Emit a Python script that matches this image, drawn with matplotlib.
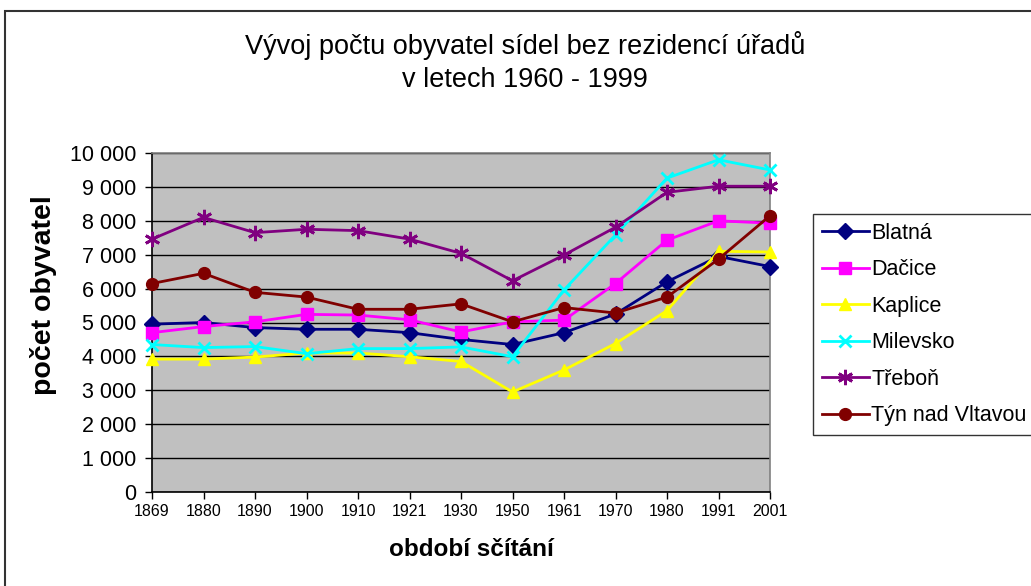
import matplotlib
matplotlib.use("Agg")
import matplotlib.pyplot as plt
from matplotlib.patches import Rectangle
from matplotlib.ticker import FuncFormatter

plt.rcParams['font.family'] = ['Liberation Sans', 'DejaVu Sans']

years = ['1869', '1880', '1890', '1900', '1910', '1921', '1930',
         '1950', '1961', '1970', '1980', '1991', '2001']

blatna = [4950, 5000, 4850, 4800, 4800, 4700, 4500, 4350, 4700, 5250, 6200, 6950, 6650]
dacice = [4700, 4880, 5020, 5240, 5220, 5080, 4720, 5020, 5070, 6150, 7430, 8000, 7930]
kaplice = [3920, 3920, 3980, 4100, 4100, 3990, 3850, 2950, 3600, 4380, 5350, 7100, 7080]
milevsko = [4350, 4260, 4290, 4080, 4230, 4230, 4280, 3990, 5960, 7580, 9260, 9800, 9500]
trebon = [7460, 8100, 7650, 7750, 7710, 7460, 7040, 6230, 6990, 7810, 8840, 9020, 9020]
tyn = [6150, 6450, 5890, 5750, 5390, 5390, 5550, 5020, 5440, 5280, 5750, 6870, 8150]

series = [
    ('Blatná', blatna, '#000080', 'D', 8),
    ('Dačice', dacice, '#FF00FF', 's', 8),
    ('Kaplice', kaplice, '#FFFF00', '^', 8.5),
    ('Milevsko', milevsko, '#00FFFF', 'x', 9),
    ('Třeboň', trebon, '#800080', (6, 2, 0), 11),
    ('Týn nad Vltavou', tyn, '#800000', 'o', 8.5),
]

fig = plt.figure(figsize=(10.31, 5.86), dpi=100)
ax = fig.add_axes([152 / 1031, 94 / 586, 618 / 1031, 339 / 586])
ax.set_facecolor('#C0C0C0')

x = list(range(len(years)))
for name, vals, col, mk, ms in series:
    ax.plot(x, vals, color=col, lw=2, marker=mk, markersize=ms,
            markeredgewidth=2 if mk in ('x', (6, 2, 0)) else 1,
            markerfacecolor=col, markeredgecolor=col, label=name,
            clip_on=False, zorder=3)

ax.set_xlim(0, len(years) - 1)
ax.set_ylim(0, 10000)
ax.set_xticks(x)
ax.set_xticklabels(years)
ax.set_yticks(range(0, 10001, 1000))
ax.yaxis.set_major_formatter(FuncFormatter(lambda v, p: f"{int(v):,}".replace(',', ' ')))
ax.yaxis.grid(True, color='black', lw=1)
ax.set_axisbelow(True)

ax.tick_params(axis='y', direction='out', length=5, width=1, labelsize=15.5, pad=6)
ax.tick_params(axis='x', direction='out', length=5, width=1, labelsize=11.5, pad=4)

for s in ('top', 'right'):
    ax.spines[s].set_color('#808080')
    ax.spines[s].set_linewidth(1.2)
for s in ('left', 'bottom'):
    ax.spines[s].set_color('black')
    ax.spines[s].set_linewidth(1.2)

ax.set_ylabel('počet obyvatel', fontsize=20.5, fontweight='bold')
ax.yaxis.set_label_coords((43 - 152) / 618, (493 - 296) / 339)
ax.set_xlabel('období sčítání', fontsize=17.5, fontweight='bold')
ax.xaxis.set_label_coords((471 - 152) / 618, -(551 - 493) / 339)
ax.xaxis.label.set_va('center')
ax.yaxis.label.set_va('center')

fig.text(525 / 1031, 1 - 46 / 586, 'Vývoj počtu obyvatel sídel bez rezidencí úřadů',
         ha='center', va='center', fontsize=19.5)
fig.text(525 / 1031, 1 - 80 / 586, 'v letech 1960 - 1999',
         ha='center', va='center', fontsize=19.5)

leg = fig.legend(loc='upper left', bbox_to_anchor=(813 / 1031, 1 - 214 / 586),
                 bbox_transform=fig.transFigure, borderaxespad=0, fontsize=15.5,
                 frameon=True, fancybox=False, edgecolor='black',
                 handlelength=2.2, handletextpad=0.1, labelspacing=0.72,
                 borderpad=0.4)
leg.get_frame().set_linewidth(1)

fig.patches.append(Rectangle((5 / 1031, -0.1), 1.2, 1.1 - 11 / 586,
                             transform=fig.transFigure, fill=False,
                             edgecolor='#333333', lw=1.5))

fig.savefig('out.png', dpi=100)
